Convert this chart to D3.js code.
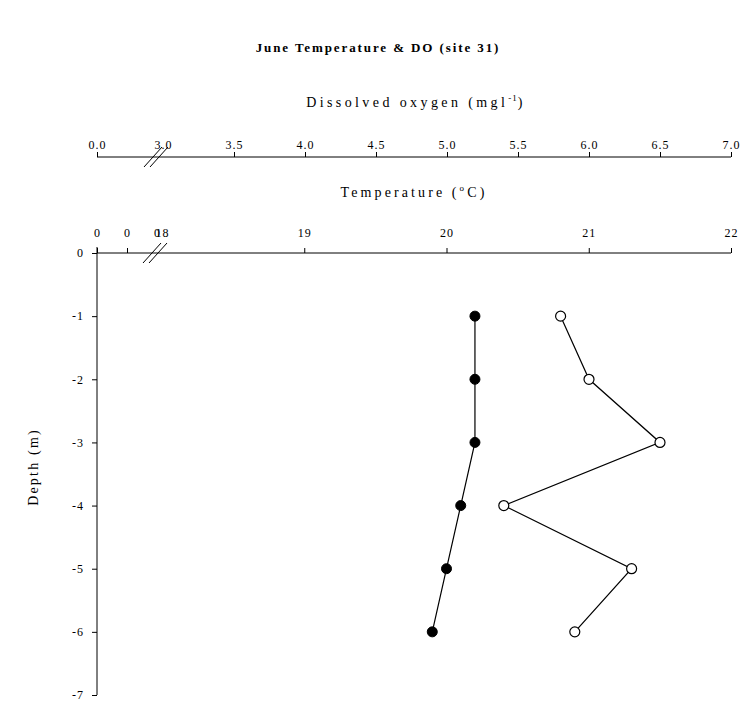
<!DOCTYPE html>
<html>
<head>
<meta charset="utf-8">
<script src="https://cdn.jsdelivr.net/npm/d3@7"></script>
<style>
  body { margin: 0; background: #fff; }
  text { font-family: "Liberation Serif", "Times New Roman", serif; fill: #000; }
  .axis path, .axis line { stroke: #000; }
  .axis text { font-size: 12px; letter-spacing: 1px; }
  .lbl { font-size: 14px; letter-spacing: 3.1px; }
</style>
</head>
<body>
<svg id="chart" width="750" height="712"></svg>
<script>
// depths sampled (m)
var depths = [-1, -2, -3, -4, -5, -6];
// temperature (filled) and dissolved oxygen (open)
var temperature = [20.2, 20.2, 20.2, 20.1, 20.0, 19.9];
var oxygen = [5.8, 6.0, 6.5, 5.4, 6.3, 5.9];

var depthTicks = [0, -1, -2, -3, -4, -5, -6, -7];
var tempTicks = [18, 19, 20, 21, 22];
var tempLowTicks = [0, 1, 2];   // the odd "0 0 0" bit before the break
var doTicks = [3.0, 3.5, 4.0, 4.5, 5.0, 5.5, 6.0, 6.5, 7.0];
var doLowTicks = [0.0];

var svg = d3.select("#chart");

var left = 97, right = 731;
var tempAxisY = 253, doAxisY = 157;

var y = d3.scaleLinear().domain([0, -7]).range([tempAxisY, 695]);
var xT = d3.scaleLinear().domain([18, 22]).range([162, right]);
var xTlow = d3.scaleLinear().domain([0, 2]).range([left, 157]);
var xO = d3.scaleLinear().domain([3, 7]).range([163, right]);
var xOlow = d3.scaleLinear().domain([0, 1]).range([left, 130]);

// title
svg.append("text")
  .attr("x", 378).attr("y", 52)
  .attr("text-anchor", "middle")
  .style("font-size", "13px").style("font-weight", "bold")
  .style("letter-spacing", "1.9px")
  .text("June Temperature & DO (site 31)");

// ---- DO axis (top) ----
var gO = svg.append("g").attr("class", "axis").attr("transform", "translate(0," + doAxisY + ")");
gO.append("line").attr("x1", left).attr("x2", right).attr("y1", 0).attr("y2", 0);
gO.append("g")
  .call(d3.axisTop(xO).tickValues(doTicks).tickSize(5).tickFormat(d3.format(".1f")))
  .call(function(g) { g.select(".domain").remove(); })
  .call(function(g) { g.selectAll(".tick line").filter(function(d) { return d === 3; }).remove(); });
gO.append("g")
  .call(d3.axisTop(xOlow).tickValues(doLowTicks).tickSize(5).tickFormat(d3.format(".1f")))
  .call(function(g) { g.select(".domain").remove(); });
breakMarks(gO, 156, 0);

svg.append("text")
  .attr("class", "lbl")
  .attr("x", 416).attr("y", 107)
  .attr("text-anchor", "middle")
  .style("letter-spacing", "3.4px")
  .call(function(t) {
    t.append("tspan").text("Dissolved oxygen (mgl");
    t.append("tspan").attr("dy", -6).style("font-size", "9px").style("letter-spacing", "1px").text("-1");
    t.append("tspan").attr("dy", 6).text(")");
  });

// ---- temperature axis ----
var gT = svg.append("g").attr("class", "axis").attr("transform", "translate(0," + tempAxisY + ")");
gT.append("line").attr("x1", left).attr("x2", right).attr("y1", 0).attr("y2", 0);
gT.append("g")
  .call(d3.axisTop(xT).tickValues(tempTicks).tickSize(5).tickPadding(11).tickFormat(d3.format("d")))
  .call(function(g) { g.select(".domain").remove(); })
  .call(function(g) { g.selectAll(".tick line").filter(function(d) { return d === 18; }).remove(); });
gT.append("g")
  .call(d3.axisTop(xTlow).tickValues(tempLowTicks).tickSize(5).tickPadding(11).tickFormat(function() { return "0"; }))
  .call(function(g) { g.select(".domain").remove(); })
  .call(function(g) { g.selectAll(".tick line").filter(function(d) { return d === 2; }).remove(); });
breakMarks(gT, 155, 0);

svg.append("text")
  .attr("class", "lbl")
  .attr("x", 414).attr("y", 197)
  .attr("text-anchor", "middle")
  .call(function(t) {
    t.append("tspan").text("Temperature (");
    t.append("tspan").attr("dy", -6).style("font-size", "9px").text("o");
    t.append("tspan").attr("dy", 6).text("C)");
  });

// ---- depth axis ----
var gY = svg.append("g").attr("class", "axis").attr("transform", "translate(" + left + ",0)");
gY.append("line").attr("x1", 0).attr("x2", 0).attr("y1", tempAxisY - 6).attr("y2", y(-7));
gY.append("g")
  .call(d3.axisLeft(y).tickValues(depthTicks).tickSize(5).tickPadding(8).tickFormat(d3.format("d")))
  .call(function(g) { g.select(".domain").remove(); })
  .call(function(g) { g.selectAll(".tick text").text(function(d) { return d < 0 ? "-" + (-d) : d; }); });

svg.append("text")
  .attr("class", "lbl")
  .attr("transform", "translate(38," + 467 + ") rotate(-90)")
  .attr("text-anchor", "middle")
  .style("letter-spacing", "2.2px")
  .text("Depth (m)");

function breakMarks(g, cx, cy) {
  [-3, 3].forEach(function(off) {
    g.append("line")
      .attr("x1", cx + off - 9).attr("y1", cy + 10)
      .attr("x2", cx + off + 9).attr("y2", cy - 10)
      .attr("stroke", "#000").attr("stroke-width", 1);
  });
}

// ---- data ----
var tempData = depths.map(function(d, i) { return {depth: d, v: temperature[i]}; });
var doData = depths.map(function(d, i) { return {depth: d, v: oxygen[i]}; });

var lineT = d3.line().x(function(d) { return xT(d.v); }).y(function(d) { return y(d.depth); });
var lineO = d3.line().x(function(d) { return xO(d.v); }).y(function(d) { return y(d.depth); });

svg.append("path").datum(tempData).attr("d", lineT)
  .attr("fill", "none").attr("stroke", "#000").attr("stroke-width", 1.2);
svg.append("path").datum(doData).attr("d", lineO)
  .attr("fill", "none").attr("stroke", "#000").attr("stroke-width", 1.2);

svg.selectAll(".tpt").data(tempData).enter().append("circle")
  .attr("class", "tpt")
  .attr("cx", function(d) { return xT(d.v); })
  .attr("cy", function(d) { return y(d.depth); })
  .attr("r", 5).attr("fill", "#000").attr("stroke", "#000");

svg.selectAll(".opt").data(doData).enter().append("circle")
  .attr("class", "opt")
  .attr("cx", function(d) { return xO(d.v); })
  .attr("cy", function(d) { return y(d.depth); })
  .attr("r", 5).attr("fill", "#fff").attr("stroke", "#000").attr("stroke-width", 1.2);
</script>
</body>
</html>
